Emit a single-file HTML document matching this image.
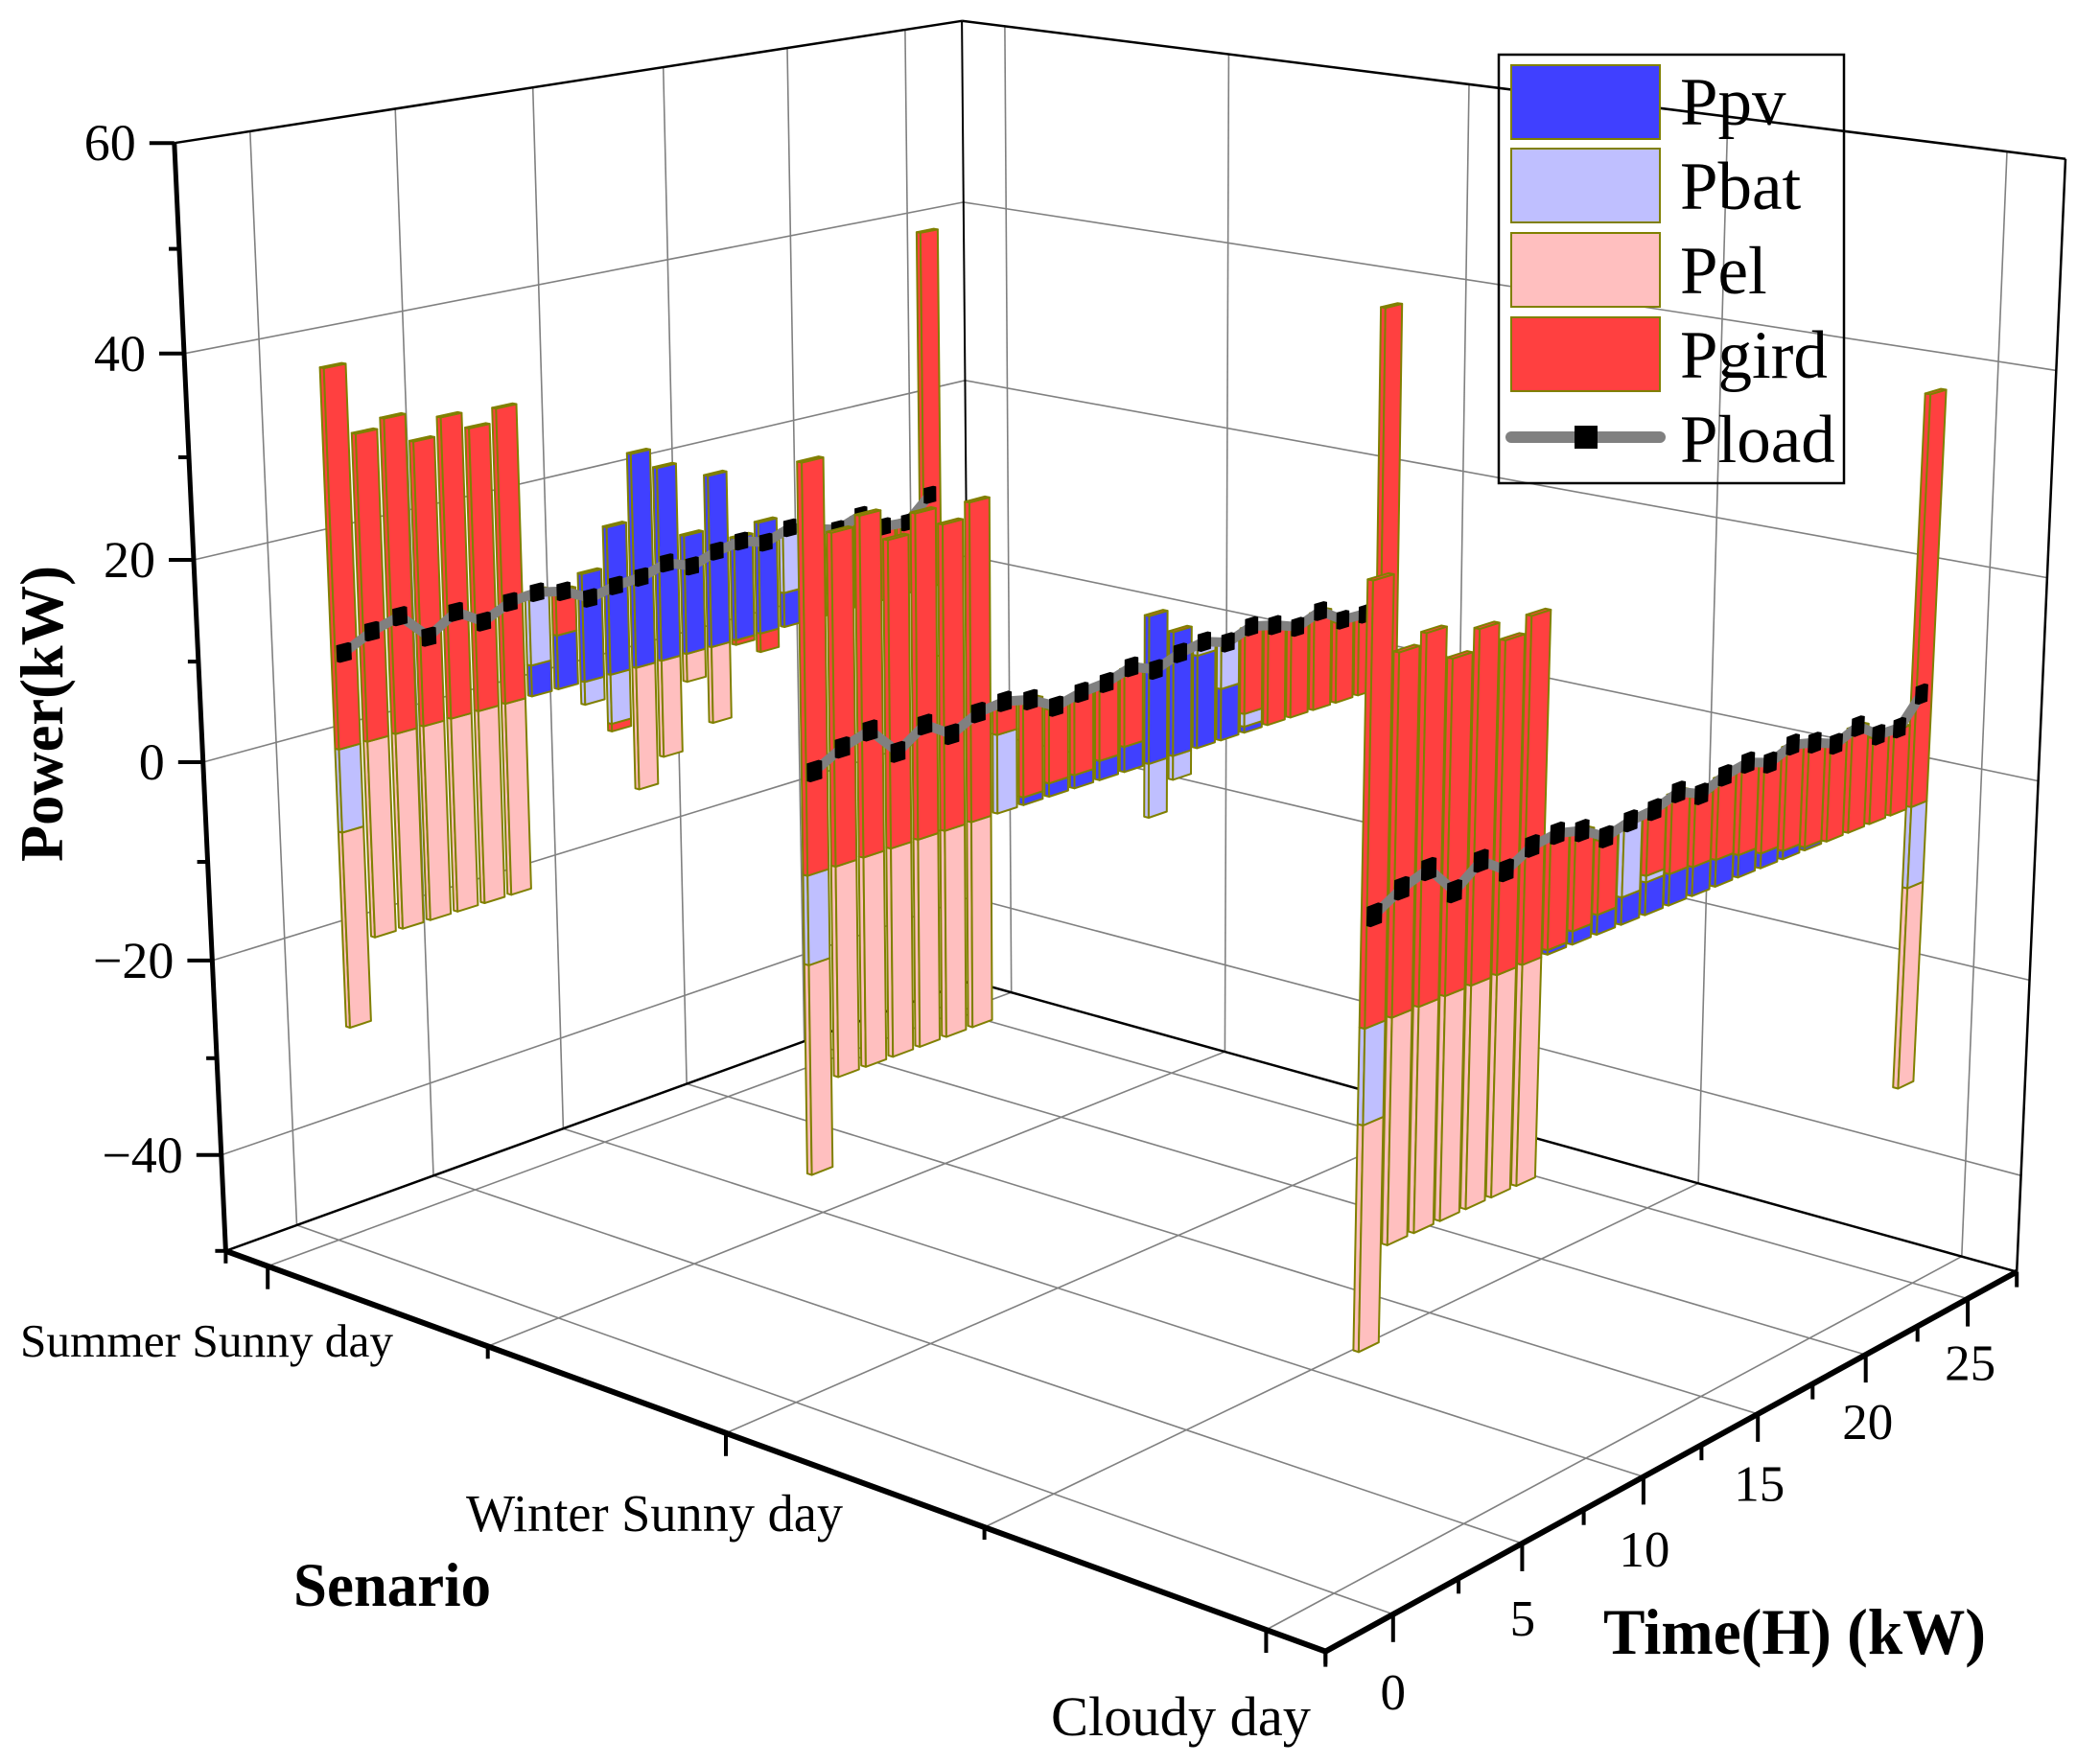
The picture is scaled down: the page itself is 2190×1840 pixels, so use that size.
<!DOCTYPE html>
<html lang="en">
<head>
<meta charset="utf-8">
<title>Power by scenario and time</title>
<style>
html,body{margin:0;padding:0;background:#fff;}
svg{display:block;}
text{font-family:"Liberation Serif","Times New Roman",serif;fill:#000;}
</style>
</head>
<body>
<svg id="chart" xmlns="http://www.w3.org/2000/svg" width="2190" height="1840" viewBox="0 0 2190 1840">
  <rect x="0" y="0" width="2190" height="1840" fill="#fff"/>
  <g id="walls"></g>
  <g id="series"></g>
  <g id="axes"></g>
  <g font-weight="bold">
    <text transform="translate(65,899) rotate(-90)" font-size="64" font-weight="bold" textLength="309" lengthAdjust="spacingAndGlyphs">Power(kW)</text>
    <text x="306" y="1675" font-size="65" font-weight="bold" textLength="206" lengthAdjust="spacingAndGlyphs">Senario</text>
    <text x="1672" y="1725" font-size="68" font-weight="bold" textLength="399" lengthAdjust="spacingAndGlyphs">Time(H) (kW)</text>
  </g>
  <g>
    <rect x="1563" y="57" width="360" height="447" fill="none" stroke="#000" stroke-width="2.5"/>
    <rect x="1576" y="68" width="155" height="77" fill="#4040FF" stroke="#808000" stroke-width="2"/>
    <rect x="1576" y="155" width="155" height="77" fill="#BFBFFF" stroke="#808000" stroke-width="2"/>
    <rect x="1576" y="243" width="155" height="77" fill="#FFBFBF" stroke="#808000" stroke-width="2"/>
    <rect x="1576" y="331" width="155" height="77" fill="#FF4040" stroke="#808000" stroke-width="2"/>
    <line x1="1576" y1="456" x2="1731" y2="456" stroke="#808080" stroke-width="12" stroke-linecap="round"/>
    <rect x="1642" y="444" width="24" height="24" fill="#000"/>
    <text x="1752" y="130" font-size="71">Ppv</text>
    <text x="1752" y="218" font-size="71">Pbat</text>
    <text x="1752" y="306" font-size="71">Pel</text>
    <text x="1752" y="394" font-size="71">Pgird</text>
    <text x="1752" y="482" font-size="71">Pload</text>
  </g>
</svg>
<script>
/* ---------- chart data (kW, hours 1..24) ---------- */
var hours = [1,2,3,4,5,6,7,8,9,10,11,12,13,14,15,16,17,18,19,20,21,22,23,24];
var scenarios = ["Summer Sunny day","Winter Sunny day","Cloudy day"];
var zTickLabels = [60,40,20,0,-20,-40];
var timeTickLabels = [0,5,10,15,20,25];

var ppvSummer   = [0,0,0,0,0,0,0,3.2,5.6,11.3,15.5,22.5,20.4,12.6,18.3,11,12,3.7,0,0,0,0,0,0];
var pbatSummer  = [-8.4,0,0,0,0,0,0,7.5,0,-2.4,-5.2,0,0,0,0,0,0,6.8,0,0,0,0,0,-8];
var pelSummer   = [-20,-20,-20,-20,-20,-20,-20,0,0,0,0,-13,-10.3,-3,-8.2,0,0,0,0,0,0,0,0,-20];
var pgridSummer = [37.7,30.7,31.6,28.7,30.5,28.8,30.2,0,4.5,0,-0.8,0,0,0,0,-0.5,-2,0,9.9,9,9.9,8.3,8.2,39.3];

var ppvWinter   = [0,0,0,0,0,0,0,0,0.75,1.3,1.3,1.9,2.5,14.7,12.4,9.3,5.2,0.6,0,0,0,0,0,0];
var pbatWinter  = [-8.4,0,0,0,0,0,0,7.6,0,0,0,0,0,-5.4,-2.4,1.1,4.4,1.3,0,0,0,0,0,-8];
var pelWinter   = [-20,-20,-20,-20,-20,-20,-20,0,0,0,0,0,0,0,0,0,0,0,0,0,0,0,0,-20];
var pgridWinter = [37.9,30.9,31.8,28.9,30.7,29,30.4,2.9,9.2,7.2,7.8,7.4,7.6,0,0,0,0,8.6,9.9,9,9.9,8.3,8.2,39.3];

var ppvCloudy   = [0,0,0,0,0,0,0,0.4,1.2,1.8,2.5,3,2.9,2.7,2.5,2.1,1.4,0.8,0.3,0,0,0,0,0];
var pbatCloudy  = [-8.4,0,0,0,0,0,0,0,0,0,6.5,0.6,0,0,0,0,0,0,0,0,0,0,0,-8];
var pelCloudy   = [-20,-20,-20,-20,-20,-20,-20,0,0,0,0,0,0,0,0,0,0,0,0,0,0,0,0,-20];
var pgridCloudy = [37.9,31.2,32.1,29.2,31,29.3,30.7,10.1,8.7,6.7,0,5.7,7.2,6.4,7.5,8.3,8.2,9.7,9.6,9,9.9,8.3,8.2,39.7];

var ploadSummer = [9.4,10.8,11.6,8.8,10.6,8.9,10.2,10.5,9.9,8.5,9.1,9.3,10.1,9.1,10,10.4,9.6,10.5,9.7,9,9.9,8,7.8,10.2];
var ploadWinter = [9.4,10.8,11.6,8.8,10.6,8.9,10.2,10.5,9.9,8.5,9.1,9.3,10.1,9.1,10,10.4,9.6,10.5,9.9,9,9.9,8.3,8.2,10.7];
var ploadCloudy = [9.4,10.8,11.6,8.8,10.6,8.9,10.2,10.5,9.9,8.5,9.1,9.3,10.1,9.1,10,10.4,9.6,10.5,9.9,9,9.9,8.3,8.2,10.7];

/* ---------- axis ranges ---------- */
var T0=-2.5,T1=27.5,S0=0.9,S1=3.1,Z0=-50,Z1=60;
var SVGNS="http://www.w3.org/2000/svg";

/* ---------- perspective camera calibrated to the plot box corners ---------- */
var calibration=[
 [T0,S0,Z1, 178,153],
 [T0,S0,Z0, 236,1300],
 [T1,S0,Z1, 1009,20],
 [T1,S0,Z0, 1009,1026],
 [T1,S1,Z1, 2151,164],
 [T1,S1,Z0, 2103,1327],
 [T0,S1,Z0, 1386,1724]
];
function norm(t,s,z){return [(t-T0)/(T1-T0),(s-S0)/(S1-S0),(z-Z0)/(Z1-Z0)];}
function solveCamera(){
  var A=[],b=[];
  calibration.forEach(function(c){
    var n=norm(c[0],c[1],c[2]),x=c[3]/1000,y=c[4]/1000;
    A.push([n[0],n[1],n[2],1,0,0,0,0,-x*n[0],-x*n[1],-x*n[2]]);b.push(x);
    A.push([0,0,0,0,n[0],n[1],n[2],1,-y*n[0],-y*n[1],-y*n[2]]);b.push(y);
  });
  var N=11,M=[],i,j,k;
  for(i=0;i<N;i++){M.push(new Array(N+1).fill(0));
    for(j=0;j<N;j++){for(k=0;k<A.length;k++){M[i][j]+=A[k][i]*A[k][j];}}
    for(k=0;k<A.length;k++){M[i][N]+=A[k][i]*b[k];}
  }
  for(i=0;i<N;i++){
    var p=i;for(j=i+1;j<N;j++){if(Math.abs(M[j][i])>Math.abs(M[p][i]))p=j;}
    var tmp=M[i];M[i]=M[p];M[p]=tmp;
    for(j=i+1;j<N;j++){var f=M[j][i]/M[i][i];for(k=i;k<=N;k++){M[j][k]-=f*M[i][k];}}
  }
  var r=new Array(N);
  for(i=N-1;i>=0;i--){var v=M[i][N];for(j=i+1;j<N;j++){v-=M[i][j]*r[j];}r[i]=v/M[i][i];}
  return r;
}
var cam=solveCamera();
function project(t,s,z){
  var n=norm(t,s,z),u=n[0],v=n[1],w=n[2];
  var d=cam[8]*u+cam[9]*v+cam[10]*w+1;
  return [1000*(cam[0]*u+cam[1]*v+cam[2]*w+cam[3])/d,1000*(cam[4]*u+cam[5]*v+cam[6]*w+cam[7])/d];
}
function ptStr(p){return p[0].toFixed(1)+","+p[1].toFixed(1);}

/* ---------- drawing helpers ---------- */
function seg(parent,a,b,color,width,name){
  var el=document.createElementNS(SVGNS,"line");
  el.setAttribute("x1",a[0].toFixed(1));el.setAttribute("y1",a[1].toFixed(1));
  el.setAttribute("x2",b[0].toFixed(1));el.setAttribute("y2",b[1].toFixed(1));
  el.setAttribute("stroke",color);el.setAttribute("stroke-width",width);
  
  
  parent.appendChild(el);return el;
}
function poly(parent,pts,fill,stroke,width,name){
  var el=document.createElementNS(SVGNS,"polygon");
  el.setAttribute("points",pts.map(ptStr).join(" "));
  el.setAttribute("fill",fill);
  if(stroke){el.setAttribute("stroke",stroke);el.setAttribute("stroke-width",width);el.setAttribute("stroke-linejoin","round");}
  
  
  parent.appendChild(el);return el;
}
function label(parent,x,y,txt,size,anchor,name){
  var el=document.createElementNS(SVGNS,"text");
  el.setAttribute("x",x);el.setAttribute("y",y);
  el.setAttribute("font-size",size);el.setAttribute("text-anchor",anchor);
  el.textContent=txt;
  
  
  parent.appendChild(el);return el;
}

/* ---------- walls and grid ---------- */
var walls=document.getElementById("walls");
var GRID="#808080",GW=1.6;
var gridS=[1,1.5,2,2.5,3];
timeTickLabels.forEach(function(t){
  seg(walls,project(t,S0,Z0),project(t,S0,Z1),GRID,GW,"left-wall-gridline-t"+t);
  seg(walls,project(t,S0,Z0),project(t,S1,Z0),GRID,GW,"floor-gridline-t"+t);
});
gridS.forEach(function(s){
  seg(walls,project(T1,s,Z0),project(T1,s,Z1),GRID,GW,"right-wall-gridline-s"+s);
  seg(walls,project(T0,s,Z0),project(T1,s,Z0),GRID,GW,"floor-gridline-s"+s);
});
zTickLabels.forEach(function(z){
  if(z===Z1)return;
  seg(walls,project(T0,S0,z),project(T1,S0,z),GRID,GW,"left-wall-gridline-z"+z);
  seg(walls,project(T1,S0,z),project(T1,S1,z),GRID,GW,"right-wall-gridline-z"+z);
});
seg(walls,project(T0,S0,Z1),project(T1,S0,Z1),"#000",2.5,"left-wall-top-edge");
seg(walls,project(T1,S0,Z1),project(T1,S1,Z1),"#000",2.5,"right-wall-top-edge");
seg(walls,project(T1,S0,Z0),project(T1,S0,Z1),"#000",2,"back-vertical-edge");
seg(walls,project(T1,S1,Z0),project(T1,S1,Z1),"#000",2.5,"right-vertical-edge");
seg(walls,project(T0,S0,Z0),project(T1,S0,Z0),"#000",2.5,"floor-back-left-edge");
seg(walls,project(T1,S0,Z0),project(T1,S1,Z0),"#000",2.5,"floor-back-right-edge");

/* ---------- bars and load lines ---------- */
var COLORS={ppv:"#4040FF",pbat:"#BFBFFF",pel:"#FFBFBF",pgrid:"#FF4040"};
var EDGE="#808000",EW=2;
var HALF_T=0.375,HALF_S=0.0045;
var rows=[
 {s:1,key:"summer",nudgeX:0,nudgeY:0,shear:0,ppv:ppvSummer,pbat:pbatSummer,pel:pelSummer,pgrid:pgridSummer,load:ploadSummer},
 {s:2,key:"winter",nudgeX:0,nudgeY:1,shear:0.03,ppv:ppvWinter,pbat:pbatWinter,pel:pelWinter,pgrid:pgridWinter,load:ploadWinter},
 {s:3,key:"cloudy",nudgeX:3,nudgeY:6,shear:0.1,ppv:ppvCloudy,pbat:pbatCloudy,pel:pelCloudy,pgrid:pgridCloudy,load:ploadCloudy}
];
var activeRow=rows[0];
function rowPoint(t,s,z){
  var p=project(t,s,z);
  return [p[0]+activeRow.nudgeX+activeRow.shear*(z+28),p[1]+activeRow.nudgeY];
}
function drawSegment(g,t,s,zLow,zHigh,color,name,withTop){
  var l=t-HALF_T,r=t+HALF_T,b=s-HALF_S,f=s+HALF_S;
  if(zHigh>zLow){
    poly(g,[rowPoint(l,b,zLow),rowPoint(l,f,zLow),rowPoint(l,f,zHigh),rowPoint(l,b,zHigh)],color,EDGE,EW,name+"-side");
    poly(g,[rowPoint(l,f,zLow),rowPoint(r,f,zLow),rowPoint(r,f,zHigh),rowPoint(l,f,zHigh)],color,EDGE,EW,name+"-front");
  }
  if(withTop){
    poly(g,[rowPoint(l,f,zHigh),rowPoint(r,f,zHigh),rowPoint(r,b,zHigh),rowPoint(l,b,zHigh)],color,EDGE,EW,name+"-top");
  }
}
var seriesRoot=document.getElementById("series");
rows.forEach(function(row){
  activeRow=row;
  var g=document.createElementNS(SVGNS,"g");
  
  
  seriesRoot.appendChild(g);
  for(var i=hours.length-1;i>=0;i--){
    var t=hours[i],pos=0,neg=0,parts=[];
    ["ppv","pbat","pel","pgrid"].forEach(function(k){
      var v=row[k][i];
      if(v>0){parts.push({lo:pos,hi:pos+v,k:k});pos+=v;}
      else if(v<0){parts.push({lo:neg+v,hi:neg,k:k});neg+=v;}
      else if(k==="pgrid"){parts.push({lo:pos,hi:pos,k:k});}
    });
    parts.sort(function(a,b){return (a.lo-b.lo)||(a.hi-b.hi);});
    parts.forEach(function(part,idx){
      drawSegment(g,t,row.s,part.lo,part.hi,COLORS[part.k],"bar-"+row.key+"-h"+t+"-"+part.k,idx===parts.length-1);
    });
  }
  var line=document.createElementNS(SVGNS,"polyline");
  line.setAttribute("points",hours.map(function(h,i){return ptStr(rowPoint(h,row.s,row.load[i]));}).join(" "));
  line.setAttribute("fill","none");
  line.setAttribute("stroke","#808080");
  line.setAttribute("stroke-width","10");
  line.setAttribute("stroke-linejoin","round");
  line.setAttribute("stroke-linecap","round");
  
  
  g.appendChild(line);
  hours.forEach(function(h,i){
    var z=row.load[i],dt=0.2,dz=0.8,ds=0.003,s=row.s;
    poly(g,[rowPoint(h-dt,s-ds,z-dz),rowPoint(h-dt,s+ds,z-dz),rowPoint(h+dt,s+ds,z-dz),rowPoint(h+dt,s+ds,z+dz),rowPoint(h+dt,s-ds,z+dz),rowPoint(h-dt,s-ds,z+dz)],"#000","#000",1,"load-marker-"+row.key+"-h"+h);
  });
});

/* ---------- axes, ticks and tick labels ---------- */
var axes=document.getElementById("axes");
seg(axes,project(T0,S0,Z0),project(T0,S0,Z1),"#000",5,"z-axis-line");
seg(axes,project(T0,S0,Z0),project(T0,S1,Z0),"#000",6,"scenario-axis-line");
seg(axes,project(T0,S1,Z0),project(T1,S1,Z0),"#000",6,"time-axis-line");
function offs(p,dx,dy){return [p[0]+dx,p[1]+dy];}
[60,50,40,30,20,10,0,-10,-20,-30,-40,-50].forEach(function(z){
  var p=project(T0,S0,z),major=(z%20===0);
  seg(axes,p,offs(p,major?-26:-11,0),"#000",4,"z-tick-"+z);
});
[T0,0,2.5,5,7.5,10,12.5,15,17.5,20,22.5,25,T1].forEach(function(t){
  var p=project(t,S1,Z0),major=(t%5===0);
  seg(axes,p,offs(p,0,major?29:16),"#000",4,"time-tick-"+t);
});
[S0,1,1.5,2,2.5,3,S1].forEach(function(s){
  var p=project(T0,s,Z0),major=(s===1||s===2||s===3);
  seg(axes,p,offs(p,0,major?24:13),"#000",4,"scenario-tick-"+s);
});
zTickLabels.forEach(function(z){
  var p=project(T0,S0,z);
  var txt=(z<0?"\u2212":"")+Math.abs(z);
  label(axes,(p[0]-40).toFixed(1),(p[1]+18).toFixed(1),txt,54,"end","z-tick-label-"+z);
});
timeTickLabels.forEach(function(t){
  var p=project(t,S1,Z0);
  label(axes,(p[0]+0.1*t).toFixed(1),(p[1]+99-0.56*t).toFixed(1),String(t),53,"middle","time-tick-label-"+t);
});
var scenarioLabelX=[21,486,1096];
var scenarioLabelY=[1415,1597,1810];
var scenarioLabelSize=[49,55,58];
var scenarioLabelLen=[389,393,271];
scenarios.forEach(function(name,i){
  var el=label(axes,scenarioLabelX[i],scenarioLabelY[i],name,scenarioLabelSize[i],"start","scenario-label-"+(i+1));
  el.setAttribute("textLength",scenarioLabelLen[i]);
  el.setAttribute("lengthAdjust","spacingAndGlyphs");
});
</script>
</body>
</html>
